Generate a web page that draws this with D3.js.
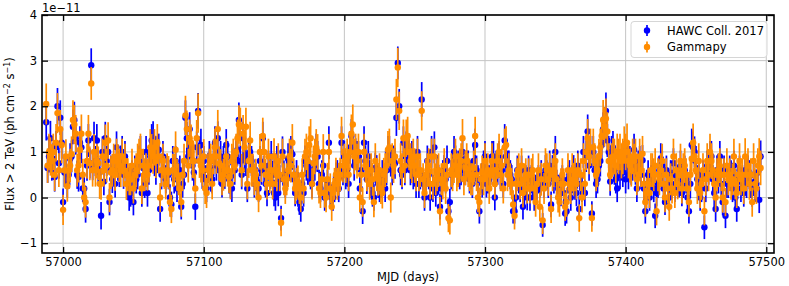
<!DOCTYPE html>
<html>
<head>
<meta charset="utf-8">
<script src="https://cdn.jsdelivr.net/npm/d3@7"></script>
<style>
  html, body { margin: 0; padding: 0; background: #fff; }
  svg { display: block; font-family: "DejaVu Sans", sans-serif; }
</style>
</head>
<body>
<svg id="chart"></svg>
<script>
// daily light curve, flux > 2 TeV in units of 1e-11 ph cm^-2 s^-1
const mjdStart = 56988

const hawcFlux = [
  1.65,0.65,0.9,1.3,0.7,0.85,0.45,1.1,2.0,0.75,1.75,1.2,
  -0.1,0.55,0.55,0.3,0.5,0.85,0.9,1.55,1.7,1.3, 0.5,0.45,1.2,1.1,0.2,0.2,-0.25,0.7,1.25,0.75,
  2.9,0.7,1.3,0.8,1.25,0.6,0.55,-0.4,1.0,0.35, 1.3,0.8,1.0,-0.1,0.6,0.4,0.6,0.3,1.1,0.7, 0.55,0.8,1.0,0.5,
  0.9,0.6,0.3,0.0,0.1,0.5,-0.1,0.6,0.4,0.5, 0.8,1.0,0.1,0.65,0.3,1.0,0.1,0.6,0.9,1.25,
  1.3,0.8,0.6,1.0,1.05,-0.25,0.5,0.9,0.55,0.4, 0.6,0.5,0.0,-0.15,0.8,0.4,0.8,0.2,0.45,0.6,
  -0.2,0.3,0.5,1.75,1.3,0.9,1.5,1.0,0.7,0.55, -0.2,1.1,1.9,1.0,1.15,0.5,0.8,
  0.4,0.2,0.65,0.9,0.45,0.4,0.8,1.2,0.7,1.3, 0.6,0.9,0.3,0.8,0.5,1.15,0.9,0.4,0.3,0.2,
  0.75,0.6,0.9,1.05,1.7,0.8,0.5,1.3,0.9,0.8, 0.2,0.95,1.0,0.8,0.6,0.3,0.45,0.35,0.2,0.8,
  0.6,1.3,0.6,0.3,0.1,0.7,0.5,0.9,0.5,0.1, 0.0,0.8,0.1,0.4,-0.45,1.0,0.5,0.3,
  0.5,0.85,0.7,1.0,0.95,0.4,0.1,0.5,0.1,-0.1, -0.25,0.3,0.1,0.8,0.7,0.6,0.6,0.5,0.3,0.6,
  0.7,1.05,0.9,0.3,0.2,0.5,0.7,0.0,0.1,0.3, 1.2,0.05,0.0,0.0,0.2,0.45,0.5,0.2,0.45,1.2,
  0.6,0.9,0.5,0.6,0.3,1.1,1.35,1.0,0.7,0.95, 0.9,0.9,0.2,0.6,-0.3,1.2,0.8,0.4,
  0.9,0.5,0.3,0.1,0.0,0.65,0.6,0.3,0.2,0.3, 0.5,0.4,0.2,0.6,1.0,1.0,0.8,0.6,0.8,0.75,
  1.75,2.95,2.0,0.6,0.5,1.2,0.6,1.1,0.95,1.05, 0.6,0.9,0.5,0.6,0.3,1.0,0.3,0.5,2.15,0.3,
  0.0,0.4,0.8,0.5,0.0,1.0,0.2,1.1,0.1,0.6, 0.4,-0.2,0.2,0.5,0.6,0.4,0.8,-0.3,
  -0.1,0.5,0.6,1.0,0.8,0.6,0.7,0.5,0.6,1.0, 0.6,0.6,0.7,0.7,0.4,0.5,0.3,0.8,1.15,0.6,
  0.4,-0.3,0.4,0.3,0.7,0.9,0.3,0.4,0.4,0.6, 0.9,0.9,0.0,0.7,0.6,0.9,0.5,0.6,0.3,1.25,
  0.9,0.7,0.7,0.5,0.4,-0.3,-0.3,0.0,0.6,0.4, 0.2,0.6,-0.2,0.1,0.4,0.0,0.6,0.0,0.4,
  0.35,0.0,0.2,0.25,0.4,0.3,0.5,-0.6,0.3,0.6, 0.5,0.3,0.7,-0.15,0.6,0.4,1.0,0.3,0.2,0.2,
  0.1,0.4,0.1,-0.35,-0.3,0.4,0.5,0.0,0.4,0.6, 0.25,0.1,0.7,-0.25,0.3,0.2,1.0,0.1,0.9,1.45,
  0.7,1.0,-0.35,1.0,0.6,0.3,0.4,0.7,0.8,1.15, 1.5,1.6,1.9,1.25,1.0,0.35,1.0,1.1,
  0.6,0.4,0.2,0.7,0.5,0.7,0.55,0.9,0.4,0.9, 0.5,0.8,0.6,0.7,1.05,0.6,0.2,0.7,0.8,0.5,
  0.82,0.2,-0.3,0.3,0.5,0.0,0.4,0.5,0.2,-0.4, 0.1,0.3,0.6,0.85,0.7,0.2,-0.1,0.6,0.3,0.0,
  0.5,0.3,0.75,0.2,0.5,0.4,0.3,0.7,0.1,0.3, 0.6,0.4,0.0,-0.3,0.3,1.15,1.1,1.0,
  0.8,0.4,0.5,0.0,0.2,0.5,-0.65,0.2,0.7,0.6, 0.9,0.9,0.4,0.1,-0.25,0.6,0.4,0.9,0.3,-0.1,
  0.6,-0.4,0.3,0.3,0.6,0.5,0.2,0.7,0.0,-0.25, 0.4,0.6,0.2,0.4,0.1,0.6,0.3,0.6,0.5,0.3,
  0.1,0.5,0.2,0.3,0.55,-0.05,0.9
]

const hawcErr = [
  .4,.33,.35,.38,.33,.35,.32,.36,.4,.34,.38,.35,
  .3,.32,.33,.3,.31,.34,.35,.38,.4,.36, .31,.32,.36,.35,.3,.29,.3,.33,.36,.33,
  .37,.32,.36,.33,.36,.31,.31,.3,.34,.3, .36,.33,.35,.29,.32,.3,.32,.3,.35,.33, .32,.34,.35,.31,
  .34,.32,.3,.29,.3,.32,.29,.32,.31,.32, .34,.35,.3,.33,.31,.35,.3,.32,.34,.36,
  .37,.33,.32,.35,.35,.28,.32,.34,.32,.31, .32,.32,.29,.28,.33,.31,.33,.3,.31,.32,
  .28,.3,.32,.38,.36,.34,.37,.35,.33,.32, .29,.35,.39,.34,.36,.31,.33,
  .31,.3,.33,.34,.32,.31,.33,.36,.33,.37, .32,.34,.3,.33,.31,.35,.34,.31,.3,.3,
  .33,.32,.34,.35,.38,.34,.32,.36,.34,.33, .3,.34,.35,.33,.32,.3,.31,.31,.3,.33,
  .32,.36,.32,.3,.29,.33,.31,.34,.31,.29, .29,.33,.29,.31,.27,.34,.31,.3,
  .31,.34,.33,.35,.34,.31,.29,.32,.3,.28, .28,.31,.3,.34,.33,.32,.32,.32,.31,.32,
  .33,.35,.34,.31,.3,.32,.33,.29,.3,.31, .36,.29,.29,.29,.3,.32,.32,.3,.32,.36,
  .33,.35,.32,.33,.31,.36,.37,.35,.33,.35, .34,.34,.3,.33,.28,.36,.34,.32,
  .34,.32,.31,.3,.29,.33,.33,.31,.3,.31, .32,.31,.3,.33,.35,.35,.34,.33,.34,.34,
  .4,.36,.38,.33,.32,.36,.33,.35,.35,.35, .33,.34,.32,.33,.31,.35,.31,.32,.38,.31,
  .29,.32,.34,.32,.29,.35,.3,.35,.3,.33, .32,.28,.3,.32,.33,.31,.34,.28,
  .29,.32,.33,.35,.34,.32,.33,.32,.33,.35, .32,.33,.33,.33,.31,.32,.31,.34,.36,.32,
  .31,.27,.31,.3,.33,.34,.3,.31,.31,.32, .34,.34,.28,.33,.32,.34,.32,.32,.3,.36,
  .34,.33,.33,.32,.31,.27,.27,.29,.32,.31, .3,.32,.28,.29,.31,.28,.32,.29,.31,
  .31,.29,.3,.3,.31,.31,.32,.26,.31,.33, .32,.31,.33,.28,.33,.31,.35,.31,.3,.3,
  .29,.31,.29,.27,.27,.31,.32,.29,.31,.33, .3,.29,.33,.28,.31,.3,.35,.29,.34,.37,
  .33,.35,.27,.35,.33,.31,.31,.33,.34,.36, .37,.38,.4,.36,.35,.31,.35,.36,
  .32,.31,.3,.33,.32,.33,.32,.34,.31,.34, .32,.33,.32,.33,.35,.32,.3,.33,.33,.32,
  .33,.3,.27,.31,.32,.29,.31,.32,.3,.27, .29,.31,.32,.34,.33,.3,.28,.32,.31,.29,
  .32,.31,.33,.3,.32,.31,.3,.33,.29,.31, .32,.31,.29,.27,.31,.36,.35,.34,
  .33,.31,.32,.29,.3,.32,.26,.3,.33,.32, .34,.34,.31,.3,.28,.32,.31,.34,.31,.29,
  .32,.27,.31,.31,.32,.32,.3,.33,.29,.28, .31,.32,.3,.31,.3,.32,.31,.32,.32,.31,
  .3,.32,.3,.31,.32,.29,.35
]

const gammapyFlux = [
  2.05,0.7,1.0,0.9,0.8,1.0,0.5,1.2,1.85,0.6,1.5,1.15,
  -0.27,0.6,0.9,0.25,0.6,0.7,0.95,1.7,1.6,1.4, 0.6,0.7,1.05,1.4,0.5,0.0,-0.1,0.8,1.4,0.75,
  2.5,0.6,1.0,0.6,0.8,0.75,0.3,0.3,0.9,0.6, 1.2,0.7,1.25,0.0,0.55,0.6,0.8,0.5,0.9,0.8, 0.7,0.6,0.9,0.6,
  0.8,0.3,0.5,0.4,0.4,0.7,0.2,0.5,0.6,0.8, 0.9,1.0,0.2,0.7,0.5,0.6,0.5,0.7,1.1,1.0,
  0.9,1.1,0.8,1.2,0.9,0.0,0.6,0.8,0.55,0.3, 0.6,0.55,-0.1,-0.25,0.6,0.6,1.05,0.5,0.4,0.2,
  -0.1,0.5,0.8,1.8,1.5,0.7,1.3,1.2,0.8,0.8, 0.2,1.3,1.85,0.8,0.7,0.6,0.9,
  0.2,0.1,0.6,0.7,0.8,0.3,0.9,1.1,0.9,1.5, 0.75,0.7,0.4,0.5,0.6,0.9,0.6,0.45,0.3,0.8,
  0.9,0.7,1.0,1.3,1.6,1.55,0.6,1.4,1.1,1.55, 0.3,0.8,1.25,0.6,0.6,0.4,0.5,0.3,0.0,1.0,
  0.7,1.35,1.0,0.5,0.3,0.9,0.45,0.6,0.3,0.9, 0.6,0.5,0.8,0.5,-0.55,0.9,0.4,0.2,
  0.4,0.6,0.9,0.7,1.2,0.5,0.2,0.3,0.35,0.2, 0.0,0.5,0.2,0.9,1.0,0.8,1.15,1.3,0.3,0.75,
  0.9,1.1,1.0,0.2,0.1,0.4,1.0,0.1,0.0,0.4, 1.0,0.2,-0.2,0.1,0.3,0.5,0.3,0.4,0.5,1.35,
  0.7,0.8,0.7,0.9,0.5,1.0,1.4,1.6,0.9,1.0, 0.8,1.0,0.0,0.5,-0.1,1.0,0.7,0.5,
  0.6,0.3,0.6,0.4,-0.1,0.8,0.5,0.4,0.6,0.2, 0.1,0.5,0.6,0.7,1.05,1.1,0.0,0.8,0.7,0.9,
  2.15,2.85,1.9,0.8,0.6,1.3,0.7,1.3,1.35,1.0, 0.8,0.7,0.9,0.7,0.5,0.9,0.5,0.6,1.9,0.4,
  0.1,0.5,0.6,0.7,0.3,0.9,0.3,0.9,0.4,0.5, 0.6,-0.3,0.4,0.3,0.7,0.2,0.5,-0.45,
  -0.5,0.6,0.5,0.7,0.9,0.5,0.6,0.7,0.8,1.3, 0.4,0.65,0.8,0.6,0.5,0.4,0.4,0.65,1.35,0.5,
  0.0,-0.1,0.4,0.55,0.4,0.8,0.5,0.6,0.2,0.5, 0.8,0.6,0.3,0.6,0.8,1.0,0.5,0.7,0.2,1.1,
  1.15,0.5,0.6,0.4,0.3,-0.15,-0.4,0.3,0.5,0.6, 0.3,0.7,0.1,0.4,0.5,0.2,0.5,0.2,0.5,
  0.6,0.2,-0.1,0.3,0.6,-0.2,0.4,-0.5,0.2,0.7, 0.6,0.4,0.6,-0.25,0.5,0.6,0.8,0.4,0.0,-0.1,
  0.3,0.5,0.3,-0.2,-0.1,0.6,0.3,0.2,0.6,0.4, 0.5,0.3,0.6,-0.45,0.5,0.0,0.8,0.3,1.0,1.3,
  0.9,1.1,-0.45,1.1,0.8,0.5,0.6,0.9,1.1,1.35, 1.7,1.55,1.73,1.45,0.8,0.5,0.8,0.9,
  0.9,0.7,1.0,0.9,1.0,0.8,0.9,1.15,1.0,1.2, 0.8,0.7,0.6,0.9,0.8,0.9,0.4,0.5,0.9,0.6,
  0.96,0.3,-0.1,0.1,0.3,0.1,0.6,0.6,0.5,0.7, -0.3,0.5,0.4,0.6,0.8,0.3,0.0,0.5,0.2,-0.2,
  0.4,0.2,0.9,0.1,0.6,0.3,0.5,0.8,0.2,0.6, 0.7,0.5,0.2,-0.1,0.5,0.85,1.2,0.9,
  0.6,0.2,0.8,0.1,0.3,0.6,-0.3,0.4,0.8,0.5, 1.0,0.8,0.6,0.3,0.0,0.5,0.6,0.7,0.5,0.0,
  0.5,-0.1,0.7,0.4,0.5,0.3,0.4,0.9,0.3,0.1, 0.5,0.8,0.4,0.5,0.2,0.9,0.5,0.7,0.3,0.5,
  -0.1,0.8,0.3,0.2,0.7,0.9,0.65
]

const gammapyErr = [
  .45,.38,.4,.42,.37,.4,.36,.41,.44,.37,.42,.4,
  .33,.36,.38,.34,.36,.37,.39,.43,.43,.41, .36,.37,.4,.42,.35,.33,.34,.38,.41,.37,
  .36,.36,.39,.36,.38,.37,.33,.35,.39,.36, .4,.37,.4,.32,.36,.36,.38,.35,.39,.37, .36,.37,.39,.36,
  .38,.35,.36,.35,.35,.37,.33,.36,.37,.38, .39,.4,.34,.37,.36,.37,.35,.37,.4,.39,
  .38,.4,.37,.41,.38,.32,.36,.38,.36,.34, .37,.36,.32,.31,.36,.36,.4,.35,.35,.33,
  .32,.36,.38,.43,.41,.37,.41,.4,.37,.38, .33,.4,.43,.37,.37,.36,.38,
  .34,.33,.37,.37,.38,.34,.39,.4,.38,.42, .37,.36,.35,.35,.36,.39,.36,.35,.34,.38,
  .39,.36,.4,.41,.42,.42,.36,.41,.39,.42, .34,.37,.41,.36,.36,.35,.35,.34,.32,.39,
  .36,.4,.39,.35,.34,.39,.35,.36,.34,.4, .37,.36,.39,.36,.3,.39,.35,.34,
  .35,.37,.39,.37,.41,.36,.34,.35,.35,.34, .32,.36,.33,.39,.4,.38,.41,.42,.34,.38,
  .39,.4,.39,.33,.33,.36,.39,.32,.32,.36, .39,.33,.31,.33,.35,.37,.35,.36,.37,.42,
  .37,.38,.38,.39,.36,.4,.42,.44,.39,.4, .38,.4,.32,.37,.32,.4,.37,.36,
  .37,.35,.37,.36,.33,.39,.36,.36,.37,.34, .34,.37,.37,.38,.41,.41,.33,.39,.38,.39,
  .45,.43,.42,.39,.37,.41,.38,.41,.42,.4, .39,.38,.39,.38,.36,.39,.36,.37,.43,.35,
  .33,.36,.37,.38,.34,.39,.34,.39,.35,.36, .37,.31,.35,.34,.38,.34,.36,.31,
  .31,.37,.36,.38,.39,.36,.37,.38,.39,.42, .35,.38,.39,.37,.36,.35,.35,.38,.42,.36,
  .32,.32,.35,.37,.35,.39,.36,.37,.34,.36, .39,.37,.34,.37,.39,.4,.36,.38,.33,.41,
  .41,.36,.37,.35,.34,.31,.3,.34,.36,.37, .34,.38,.32,.35,.36,.33,.36,.33,.36,
  .36,.33,.32,.34,.37,.31,.36,.3,.34,.38, .37,.36,.37,.31,.36,.37,.39,.35,.33,.32,
  .34,.36,.34,.31,.32,.37,.35,.34,.37,.36, .36,.34,.37,.3,.36,.33,.39,.34,.4,.42,
  .39,.41,.3,.41,.39,.36,.37,.39,.41,.42, .44,.43,.44,.42,.39,.36,.39,.4,
  .39,.38,.4,.39,.4,.38,.39,.41,.4,.42, .38,.37,.36,.39,.38,.39,.35,.36,.39,.37,
  .39,.34,.32,.33,.34,.33,.37,.37,.36,.38, .31,.36,.35,.37,.38,.34,.32,.36,.33,.31,
  .35,.33,.39,.33,.37,.34,.36,.38,.33,.37, .38,.36,.33,.32,.36,.39,.42,.39,
  .37,.34,.39,.33,.35,.37,.31,.36,.39,.36, .4,.39,.37,.35,.32,.36,.37,.38,.36,.33,
  .36,.31,.38,.35,.36,.35,.35,.39,.34,.33, .36,.39,.35,.36,.34,.4,.36,.38,.35,.36,
  .32,.39,.34,.34,.38,.4,.38
]

const xTicks = [57000, 57100, 57200, 57300, 57400, 57500]
const yTicks = [-1, 0, 1, 2, 3, 4]
const seriesNames = ['HAWC Coll. 2017', 'Gammapy']
const seriesColors = ['#0000ff', '#ff8c00']

const width = 789, height = 286
const margin = {top: 15, right: 15, bottom: 33, left: 42}
const fontSize = 11.5

const svg = d3.select('#chart').attr('width', width).attr('height', height)

const x = d3.scaleLinear().domain([56985, 57505.5]).range([margin.left, width - margin.right])
const y = d3.scaleLinear().domain([-1.215, 4]).range([height - margin.bottom, margin.top])

const fmt = d => d3.format('d')(d).replace('-', '\u2212')

// grid
const grid = svg.append('g').attr('stroke', '#c4c4c4').attr('stroke-width', 1)
grid.selectAll('.gx').data(xTicks).join('line')
  .attr('x1', d => x(d)).attr('x2', d => x(d))
  .attr('y1', y.range()[0]).attr('y2', y.range()[1])
grid.selectAll('.gy').data(yTicks).join('line')
  .attr('x1', x.range()[0]).attr('x2', x.range()[1])
  .attr('y1', d => y(d)).attr('y2', d => y(d))

svg.append('clipPath').attr('id', 'clip').append('rect')
  .attr('x', x.range()[0]).attr('y', y.range()[1])
  .attr('width', x.range()[1] - x.range()[0]).attr('height', y.range()[0] - y.range()[1])

const plot = svg.append('g').attr('clip-path', 'url(#clip)')

function drawSeries(flux, err, color) {
  const n = Math.min(flux.length, err.length)
  const pts = d3.range(n).map(i => ({mjd: mjdStart + i, v: flux[i], e: err[i]}))
  const g = plot.append('g')
  g.append('g').selectAll('line').data(pts).join('line')
    .attr('x1', d => x(d.mjd)).attr('x2', d => x(d.mjd))
    .attr('y1', d => y(d.v - d.e)).attr('y2', d => y(d.v + d.e))
    .attr('stroke', color).attr('stroke-width', 1.7)
  g.append('g').selectAll('circle').data(pts).join('circle')
    .attr('cx', d => x(d.mjd)).attr('cy', d => y(d.v))
    .attr('r', 3.2).attr('fill', color)
}

drawSeries(hawcFlux, hawcErr, seriesColors[0])
drawSeries(gammapyFlux, gammapyErr, seriesColors[1])

// axes, ticks pointing inward on all sides
const tick = 6
const axB = svg.append('g').attr('transform', `translate(0,${y.range()[0]})`)
  .call(d3.axisBottom(x).tickValues(xTicks).tickFormat(fmt).tickSize(-tick).tickPadding(5))
const axT = svg.append('g').attr('transform', `translate(0,${y.range()[1]})`)
  .call(d3.axisTop(x).tickValues(xTicks).tickFormat('').tickSize(-tick))
const axL = svg.append('g').attr('transform', `translate(${x.range()[0]},0)`)
  .call(d3.axisLeft(y).tickValues(yTicks).tickFormat(fmt).tickSize(-tick).tickPadding(5))
const axR = svg.append('g').attr('transform', `translate(${x.range()[1]},0)`)
  .call(d3.axisRight(y).tickValues(yTicks).tickFormat('').tickSize(-tick))

;[axB, axT, axL, axR].forEach(a => {
  a.select('.domain').remove()
  a.selectAll('.tick line').attr('stroke', '#000').attr('stroke-width', 1.3)
  a.selectAll('text').attr('fill', '#000')
    .style('font-family', '"DejaVu Sans", sans-serif').style('font-size', fontSize + 'px')
})

svg.append('rect')
  .attr('x', x.range()[0]).attr('y', y.range()[1])
  .attr('width', x.range()[1] - x.range()[0]).attr('height', y.range()[0] - y.range()[1])
  .attr('fill', 'none').attr('stroke', '#000').attr('stroke-width', 1.6)

// offset text
svg.append('text').attr('x', x.range()[0]).attr('y', 11.5)
  .style('font-size', fontSize + 'px').text('1e\u221211')

// axis labels
svg.append('text')
  .attr('x', (x.range()[0] + x.range()[1]) / 2).attr('y', 281)
  .attr('text-anchor', 'middle').style('font-size', fontSize + 'px')
  .text('MJD (days)')

const yl = svg.append('text')
  .attr('transform', `translate(13.5,${(y.range()[0] + y.range()[1]) / 2}) rotate(-90)`)
  .attr('text-anchor', 'middle').style('font-size', fontSize + 'px')
yl.append('tspan').text('Flux > 2 TeV (ph cm')
yl.append('tspan').attr('dy', -4).style('font-size', '8px').text('\u22122')
yl.append('tspan').attr('dy', 4).text(' s')
yl.append('tspan').attr('dy', -4).style('font-size', '8px').text('\u22121')
yl.append('tspan').attr('dy', 4).text(')')

// legend
const lg = svg.append('g')
lg.append('rect').attr('x', 631).attr('y', 21.5).attr('width', 136).attr('height', 36)
  .attr('rx', 3).attr('fill', '#fff').attr('fill-opacity', 0.8)
  .attr('stroke', '#d6d6d6').attr('stroke-width', 1)
seriesNames.forEach((name, i) => {
  const cy = 30.5 + i * 16.5
  lg.append('line').attr('x1', 647).attr('x2', 647).attr('y1', cy - 5.5).attr('y2', cy + 5.5)
    .attr('stroke', seriesColors[i]).attr('stroke-width', 1.7)
  lg.append('circle').attr('cx', 647).attr('cy', cy).attr('r', 3.2).attr('fill', seriesColors[i])
  lg.append('text').attr('x', 667).attr('y', cy).attr('dy', '0.36em')
    .style('font-size', fontSize + 'px').text(name)
})
</script>
</body>
</html>
